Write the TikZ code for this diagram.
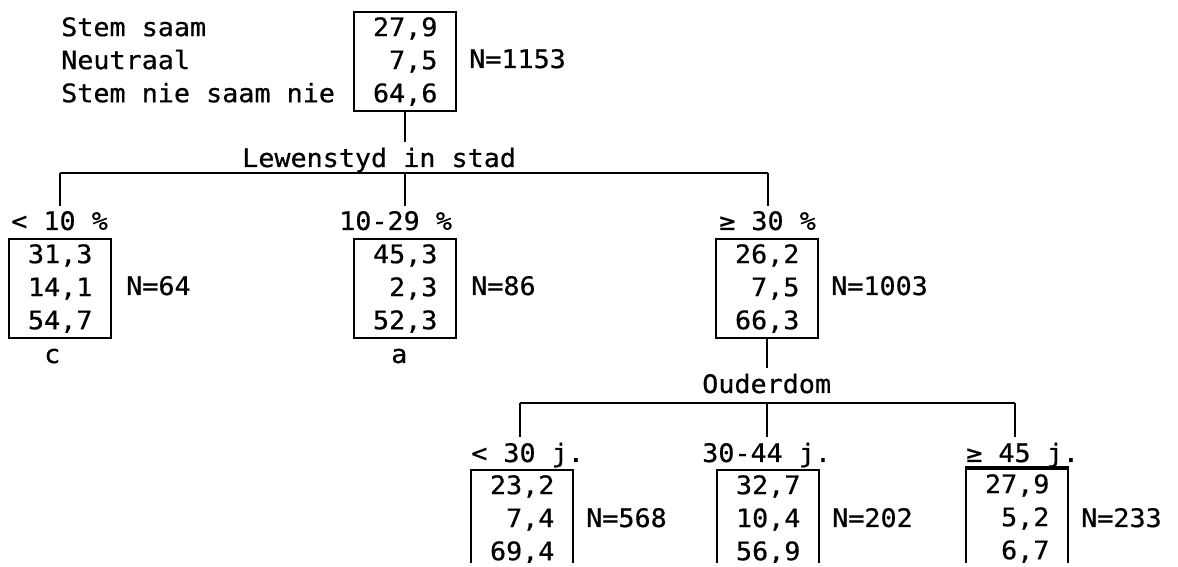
\documentclass[tikz,border=0pt]{standalone}
\usepackage{fontspec}
\newfontfamily\treefont{DejaVu Sans Mono}[FakeStretch=1.05,FakeBold=0.6]
\newcommand{\tsize}{\treefont\fontsize{14.5pt}{18.8pt}\selectfont}

\tikzset{
  valbox/.style={draw, align=right, anchor=north west, minimum width=2.04cm,
    inner xsep=0.376cm, inner ysep=0.1cm, font=\tsize},
  txt/.style={anchor=base west, inner xsep=0pt, inner ysep=0.08cm, font=\tsize},
}

\begin{document}
\begin{tikzpicture}[x=0.02cm,y=-0.02cm,line width=1.4pt]
  \useasboundingbox (0,0) rectangle (1178,567);
  \clip (0,0) rectangle (1178,563);
  % root
  \node[txt,align=left,anchor=north west,inner ysep=0.1cm] (legend) at (60,11)
    {Stem saam\\Neutraal\\Stem nie saam nie};
  \node[valbox] (root) at (353,11) {27,9\\7,5\\64,6};
  \node[txt] (rootN) at (468,68) {N=1153};
  \node[txt] (split1) at (241,167) {Lewenstyd in stad};
  \draw (root.south) -- (root.south |- split1.north);
%
  \coordinate (s1) at (60,173);
  \coordinate (s2) at (405,173);
  \coordinate (s3) at (768,173);
  \node[txt] (e1) at (10,230)  {< 10 \%};
  \node[txt] (e2) at (338,230) {10-29 \%};
  \node[txt] (e3) at (718,230) {≥ 30 \%};
  \draw (s1) -- (s3);
  \draw (s1) -- (s1 |- e1.north);
  \draw (s2) -- (s2 |- e2.north);
  \draw (s3) -- (s3 |- e3.north);
%
  \node[valbox] (n1) at (8,238)   {31,3\\14,1\\54,7};
  \node[valbox] (n2) at (353,238) {45,3\\2,3\\52,3};
  \node[valbox] (n3) at (715,238) {26,2\\7,5\\66,3};
  \node[txt] (n1N) at (125,295) {N=64};
  \node[txt] (n2N) at (470,295) {N=86};
  \node[txt] (n3N) at (830,295) {N=1003};
  \node[txt] (lowc) at (43,363)  {c};
  \node[txt] (lowa) at (390,363) {a};
  % second split
  \node[txt] (split2) at (701,393) {Ouderdom};
  \draw (n3.south) -- (n3.south |- split2.north);
  \coordinate (t1) at (520,403);
  \coordinate (t2) at (767,403);
  \coordinate (t3) at (1015,403);
  \node[txt] (f1) at (470,462) {< 30 j.};
  \node[txt] (f2) at (701,462) {30-44 j.};
  \node[txt] (f3) at (965,462) {≥ 45 j.};
  \draw (t1) -- (t3);
  \draw (t1) -- (t1 |- f1.north);
  \draw (t2) -- (t2 |- f2.north);
  \draw (t3) -- (t3 |- f3.north);
%
  \node[valbox] (m1) at (470,469) {23,2\\7,4\\69,4};
  \node[valbox] (m2) at (716,469) {32,7\\10,4\\56,9};
  \node[valbox] (m3) at (965,468) {27,9\\5,2\\6,7};
  \draw[line width=2.4pt] (m3.north west) -- (m3.north east);
  \node[txt] (m1N) at (585,527)  {N=568};
  \node[txt] (m2N) at (831,527)  {N=202};
  \node[txt] (m3N) at (1080,527) {N=233};
\end{tikzpicture}
\end{document}
